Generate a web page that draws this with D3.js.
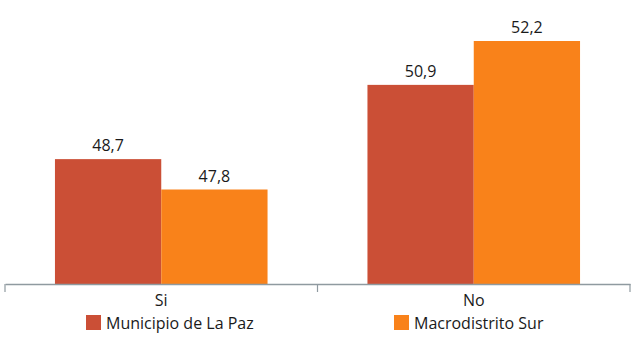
<!DOCTYPE html>
<html><head><meta charset="utf-8">
<script src="https://cdn.jsdelivr.net/npm/d3@7"></script>
<style>body{margin:0;background:#fff;}text{font-family:"Open Sans",sans-serif;}</style>
</head><body><svg id="c" width="635" height="347"></svg>
<script>
const categories = ["Si", "No"];
const seriesNames = ["Municipio de La Paz", "Macrodistrito Sur"];
const municipio = [48.7, 50.9];
const macrodistrito = [47.8, 52.2];
const colors = ["#CB4F36", "#F9821A"];

const svg = d3.select("#c");
const x = d3.scaleBand().domain(categories).range([5, 630]).paddingInner(0).paddingOuter(0);
const x1 = d3.scaleBand().domain(seriesNames).range([0, x.bandwidth()]).paddingInner(0).paddingOuter(0.47);
const y = d3.scaleLinear().domain([45, 53]).range([284, 14]);
const fmt = v => d3.format(".1f")(v).replace(".", ",");
const seriesVals = [municipio, macrodistrito];

categories.forEach((c, i) => {
  seriesNames.forEach((s, j) => {
    const v = seriesVals[j][i];
    svg.append("rect").attr("x", x(c) + x1(s)).attr("y", y(v))
      .attr("width", x1.bandwidth()).attr("height", y(45) - y(v)).attr("fill", colors[j]);
    svg.append("text").attr("x", x(c) + x1(s) + x1.bandwidth() / 2).attr("y", y(v) - 8)
      .attr("text-anchor", "middle").attr("font-size", 16).attr("fill", "#1a1a1a").text(fmt(v));
  });
});

const axis = d3.axisBottom(x).tickSize(0).tickPadding(11).tickFormat(d => d);
const g = svg.append("g").attr("transform", "translate(0,284)").call(axis);
g.select(".domain").attr("stroke", "#8f9aa0").attr("stroke-width", 1.5);
g.selectAll("text").attr("font-size", 16).attr("fill", "#1a1a1a").attr("font-family", "Open Sans");
const bounds = [x(categories[0]), x(categories[1]), x(categories[1]) + x.bandwidth()];
svg.selectAll(".bt").data(bounds).enter().append("line")
  .attr("x1", d => d).attr("x2", d => d).attr("y1", 284).attr("y2", 292)
  .attr("stroke", "#8f9aa0").attr("stroke-width", 1.2);

const legX = [86, 394];
seriesNames.forEach((s, j) => {
  svg.append("rect").attr("x", legX[j]).attr("y", 315).attr("width", 15).attr("height", 15).attr("fill", colors[j]);
  svg.append("text").attr("x", legX[j] + 20).attr("y", 328.5).attr("font-size", 16).attr("fill", "#1a1a1a").text(s);
});
</script></body></html>
